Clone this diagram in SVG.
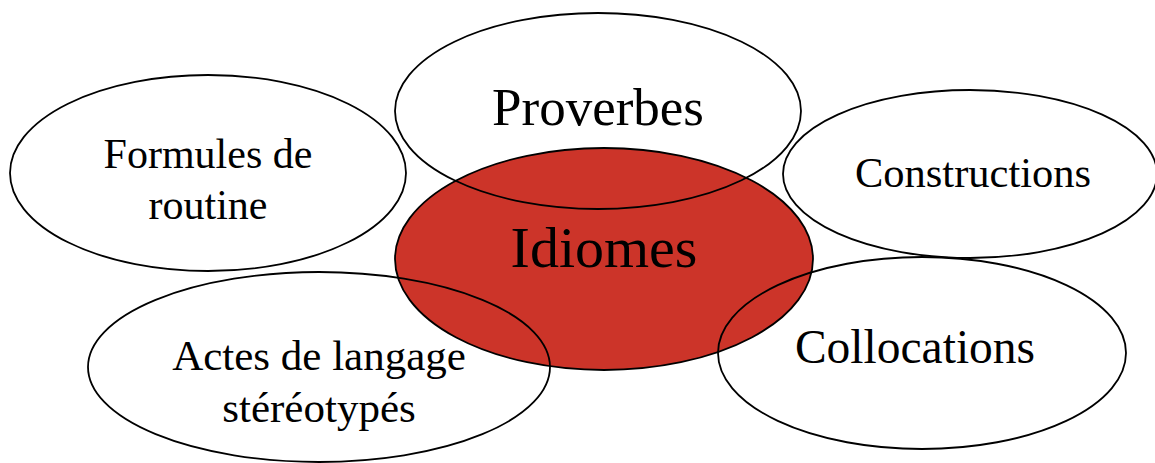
<svg xmlns="http://www.w3.org/2000/svg" width="1155" height="463" viewBox="0 0 1155 463">
<style>
.o{fill:none;stroke:#000;stroke-width:1.8}
.c{fill:#CC3429;stroke:#000;stroke-width:1.8}
text{font-family:"Liberation Serif","Times New Roman",serif;fill:#000;text-anchor:middle}
</style>
<rect width="1155" height="463" fill="#fff"/>
<g id="idiomes">
<ellipse class="c" cx="604" cy="259" rx="209" ry="111"/>
<text x="604" y="267" font-size="58">Idiomes</text>
</g>
<g id="proverbes">
<ellipse class="o" cx="598" cy="111" rx="203" ry="98"/>
<text x="598" y="125" font-size="53">Proverbes</text>
</g>
<g id="formules">
<ellipse class="o" cx="208" cy="173" rx="198" ry="98"/>
<text x="208" y="168" font-size="42">Formules de</text>
<text x="208" y="219" font-size="42">routine</text>
</g>
<g id="constructions">
<ellipse class="o" cx="970" cy="174" rx="187" ry="84"/>
<text x="973" y="187" font-size="42.5">Constructions</text>
</g>
<g id="actes">
<ellipse class="o" cx="319" cy="367" rx="231" ry="95"/>
<text x="319" y="370" font-size="43">Actes de langage</text>
<text x="319" y="422" font-size="43">stéréotypés</text>
</g>
<g id="collocations">
<ellipse class="o" cx="922" cy="353" rx="204" ry="96"/>
<text x="915" y="363" font-size="47.5">Collocations</text>
</g>
<g id="connectors"></g>
</svg>
